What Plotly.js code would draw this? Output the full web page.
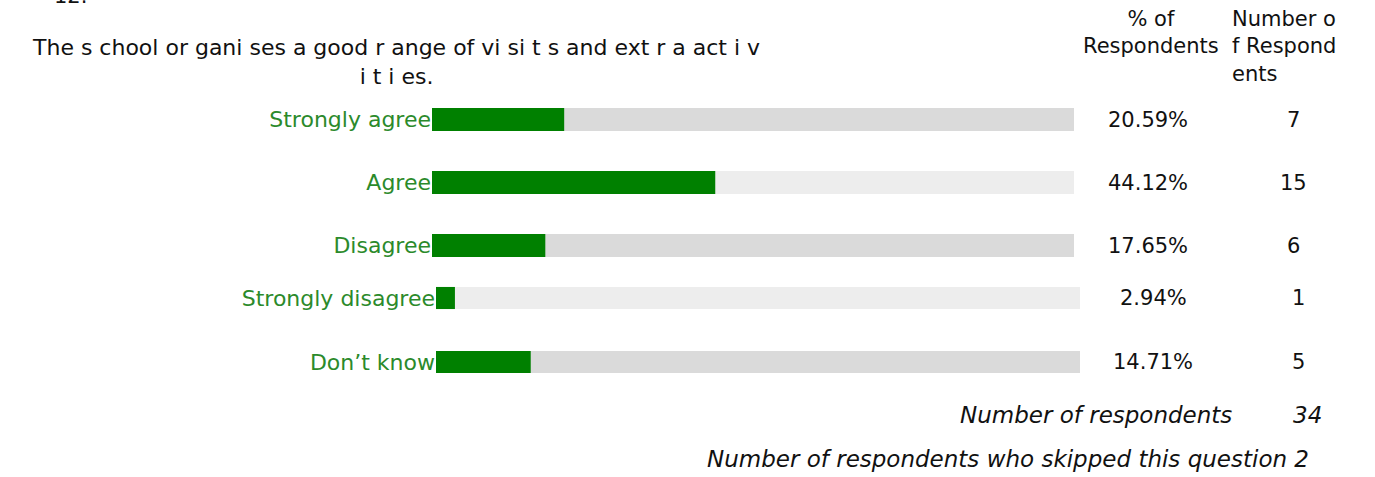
<!DOCTYPE html>
<html>
<head>
<meta charset="utf-8">
<script src="https://cdn.plot.ly/plotly-3.0.1.min.js"></script>
<style>html,body{margin:0;padding:0;background:#fff;}#chart{width:1375px;height:477px;}</style>
</head>
<body>
<div id="chart"></div>
<script>
// ---- data ----
const questionNumber = "12.";
const questionText = "The s chool or gani ses a good r ange of vi si t s and ext r a act i v<br>i t i es.";
const categories = ["Strongly agree", "Agree", "Disagree", "Strongly disagree", "Don\u2019t know"];
const percents = [20.59, 44.12, 17.65, 2.94, 14.71];
const counts = [7, 15, 6, 1, 5];
const totalRespondents = 34;
const skipped = 2;
const pctHeader = "% of<br>Respondents";
const countHeader = "Number o<br>f Respond<br>ents";
const fullScale = [100, 100, 100, 100, 100];

// ---- styles ----
const W = 1375, H = 477;
const FONT = "DejaVu Sans, sans-serif";
const GREEN = "#008000";
const LABEL_GREEN = "#2b8a2b";
const GREYS = ["#dadada", "#ededed", "#dadada", "#ededed", "#dadada"];
const px = v => v / W;
const py = v => 1 - v / H;

const topIdx = [0, 1, 2], botIdx = [3, 4];
const pick = (arr, idx) => idx.map(i => arr[i]);

function barsFor(idx, xa, ya, width) {
  return [
    {type: "bar", orientation: "h", y: pick(categories, idx), x: pick(fullScale, idx),
     marker: {color: pick(GREYS, idx)}, width: width, xaxis: xa, yaxis: ya,
     hoverinfo: "skip", showlegend: false},
    {type: "bar", orientation: "h", y: pick(categories, idx), x: pick(percents, idx),
     marker: {color: GREEN}, width: width, xaxis: xa, yaxis: ya,
     hoverinfo: "skip", showlegend: false}
  ];
}

const data = [...barsFor(topIdx, "x", "y", 0.365), ...barsFor(botIdx, "x2", "y2", 0.345)];

const annotations = [];
const txt = (text, x, y, opts) => Object.assign({text, x, y, xref: "paper", yref: "paper",
  showarrow: false, xanchor: "center", font: {family: FONT, size: 21, color: "#111"}}, opts || {});

annotations.push(txt(questionNumber, px(70), py(10), {yanchor: "bottom"}));
annotations.push(txt(questionText, px(396), py(62), {yanchor: "middle", align: "center",
  font: {family: FONT, size: 22, color: "#111"}}));
annotations.push(txt(pctHeader, px(1151), py(32), {yanchor: "middle", align: "center"}));
annotations.push(txt(countHeader, px(1230), py(46), {yanchor: "middle", xanchor: "left", align: "left"}));

categories.forEach((c, i) => {
  const top = i < 3;
  annotations.push({text: percents[i].toFixed(2) + "%", x: px(top ? 1148 : 1153), y: c,
    xref: "paper", yref: top ? "y" : "y2", showarrow: false, xanchor: "center",
    font: {family: FONT, size: 21, color: "#111"}});
  annotations.push({text: String(counts[i]), x: px(top ? 1293 : 1298), y: c,
    xref: "paper", yref: top ? "y" : "y2", showarrow: false, xanchor: "center",
    font: {family: FONT, size: 21, color: "#111"}});
});

const ital = {family: FONT, size: 23, color: "#111", style: "italic"};
annotations.push(txt("Number of respondents", px(1234), py(415),
  {xanchor: "right", yanchor: "middle", font: ital}));
annotations.push(txt(String(totalRespondents), px(1307), py(415),
  {xanchor: "center", yanchor: "middle", font: ital}));
annotations.push(txt("Number of respondents who skipped this question " + skipped, px(1311), py(459),
  {xanchor: "right", yanchor: "middle", font: ital}));

const xBase = {range: [0, 100], showgrid: false, zeroline: false, showticklabels: false, ticks: "", showline: false, fixedrange: true};
const yBase = {type: "category", showgrid: false, zeroline: false, showline: false, ticks: "",
  tickfont: {family: FONT, size: 22, color: LABEL_GREEN}, ticklabelstandoff: 0, fixedrange: true};

const layout = {
  width: W, height: H,
  margin: {l: 0, r: 0, t: 0, b: 0},
  paper_bgcolor: "#ffffff", plot_bgcolor: "rgba(0,0,0,0)",
  barmode: "overlay",
  showlegend: false,
  xaxis: Object.assign({}, xBase, {domain: [px(432), px(1074)], anchor: "y"}),
  yaxis: Object.assign({}, yBase, {domain: [1 - 277 / H, 1 - 88 / H], range: [2.5, -0.5], anchor: "x"}),
  xaxis2: Object.assign({}, xBase, {domain: [px(436), px(1080)], anchor: "y2"}),
  yaxis2: Object.assign({}, yBase, {domain: [1 - 394 / H, 1 - 266 / H], range: [1.5, -0.5], anchor: "x2"}),
  annotations: annotations,
  font: {family: FONT}
};

Plotly.newPlot("chart", data, layout, {displayModeBar: false, staticPlot: true});
</script>
</body>
</html>
